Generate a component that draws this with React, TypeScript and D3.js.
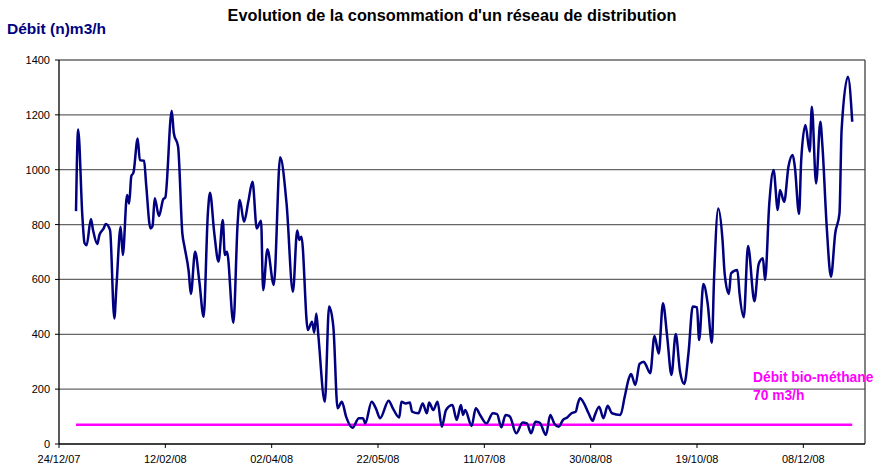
import React from "react";
import * as d3 from "d3";

// ---- Data ----
// day of year 2008 (0 = 01/01/08) and measured flow (n)m3/h
const dayIndex = [
  0, 1, 3, 4, 5, 7, 8, 10, 11, 13, 14, 16, 18, 19, 21, 22, 24, 25, 26, 27, 29, 30, 32, 33, 35, 36, 37, 39, 41, 42,
  45, 46, 48, 50, 51, 53, 54, 56, 58, 60, 62, 63, 65, 67, 69, 70, 71, 74, 76, 77, 79, 81, 83, 85, 87, 88, 90, 93, 96, 99,
  102, 104, 105, 106, 109, 111, 112, 113, 114, 117, 119, 121, 123, 125, 127, 130, 133, 135, 136, 139, 141, 143, 147, 149, 152, 153, 155, 157, 158, 161,
  163, 165, 166, 168, 170, 172, 174, 177, 179, 181, 182, 183, 186, 188, 190, 193, 196, 198, 200, 202, 204, 207, 210, 212, 214, 216, 218, 221, 223, 225,
  227, 229, 231, 233, 235, 236, 237, 239, 241, 243, 244, 246, 248, 250, 252, 256, 258, 260, 261, 263, 265, 267, 268, 270, 272, 274, 276, 278, 280, 282,
  284, 286, 288, 290, 292, 293, 295, 297, 299, 300, 302, 304, 305, 307, 308, 311, 312, 314, 316, 319, 321, 323, 324, 326, 328, 330, 331, 333, 335, 337,
  338, 340, 341, 343, 345, 346, 348, 350, 351, 353, 355, 357, 359, 360, 363, 365,
];
const flowValues = [
  849, 1147, 829, 733, 725, 820, 780, 729, 762, 786, 802, 780, 458, 573, 792, 689, 908, 877, 977, 989, 1114, 1035, 1033, 944, 786, 795, 896, 831, 892, 899,
  1215, 1133, 1084, 768, 720, 628, 547, 701, 592, 464, 841, 916, 770, 665, 817, 689, 701, 442, 805, 890, 810, 883, 956, 786, 814, 561, 710, 580, 1045, 877,
  555, 778, 744, 756, 416, 446, 406, 476, 391, 154, 501, 428, 130, 154, 100, 59, 94, 94, 75, 154, 130, 94, 158, 130, 97, 154, 148, 151, 118, 112,
  148, 112, 151, 124, 154, 63, 124, 142, 88, 142, 106, 124, 66, 130, 106, 75, 112, 109, 61, 106, 100, 39, 78, 75, 39, 81, 78, 33, 106, 73,
  63, 88, 97, 112, 118, 148, 167, 146, 112, 85, 106, 136, 94, 139, 112, 106, 172, 240, 255, 215, 292, 300, 288, 258, 394, 330, 513, 390, 252, 401,
  265, 219, 331, 501, 498, 379, 583, 513, 369, 598, 859, 744, 622, 547, 622, 634, 549, 462, 722, 520, 656, 677, 598, 877, 999, 853, 926, 883, 1011, 1054,
  1011, 839, 1035, 1163, 1066, 1230, 950, 1175, 1084, 792, 610, 768, 841, 1145, 1339, 1175,
];
const bioDays = [0, 365];
const bioValue = 70;
const yTicks = [0, 200, 400, 600, 800, 1000, 1200, 1400];
const xTickStepDays = 50;
const xTickCount = 8;

const title = "Evolution de la consommation d'un réseau de distribution";
const yTitle = "Débit (n)m3/h";
const bioLabel1 = "Débit bio-méthane";
const bioLabel2 = "70 m3/h";

export default function App() {
  const W = 875;
  const H = 467;
  const left = 59;
  const right = 865;
  const top = 60;
  const bottom = 444;

  const axisStart = new Date(2007, 11, 24);
  const yearStart = new Date(2008, 0, 1);
  const axisEnd = d3.timeDay.offset(axisStart, 379);

  const x = d3.scaleTime().domain([axisStart, axisEnd]).range([left, right]);
  const y = d3.scaleLinear().domain([0, 1400]).range([bottom, top]);

  const data = dayIndex.map((d, i) => ({ date: d3.timeDay.offset(yearStart, d), v: flowValues[i] }));
  const line = d3
    .line<{ date: Date; v: number }>()
    .x((d) => x(d.date))
    .y((d) => y(d.v))
    .curve(d3.curveMonotoneX);

  const xTicks = d3.range(xTickCount).map((i) => d3.timeDay.offset(axisStart, i * xTickStepDays));
  const fmt = d3.timeFormat("%d/%m/%y");

  const bioY = y(bioValue);
  const font = "Liberation Sans, Arial, sans-serif";

  return (
    <svg
      width={W}
      height={H}
      style={{ position: "absolute", left: 0, top: 0, display: "block", background: "#fff" }}
      fontFamily={font}
    >
      <rect x={0} y={0} width={W} height={H} fill="#fff" />
      <text x={452} y={21} textAnchor="middle" fontSize={16.3} fontWeight="bold" fill="#000">
        {title}
      </text>
      <text x={7} y={34} fontSize={15.5} fontWeight="bold" fill="#000080">
        {yTitle}
      </text>

      {/* gridlines */}
      {yTicks.slice(1).map((t) => (
        <line key={t} x1={left} x2={right} y1={y(t)} y2={y(t)} stroke="#666" strokeWidth={1.3} />
      ))}
      <line x1={right} x2={right} y1={top} y2={bottom} stroke="#404040" strokeWidth={1.3} />

      {/* y axis */}
      <line x1={left} x2={left} y1={top} y2={bottom} stroke="#000" strokeWidth={1.3} />
      {yTicks.map((t) => (
        <g key={t}>
          <line x1={left - 4} x2={left} y1={y(t)} y2={y(t)} stroke="#000" />
          <text x={50} y={y(t) + 4} textAnchor="end" fontSize={11} fill="#000">
            {t}
          </text>
        </g>
      ))}

      {/* x axis */}
      <line x1={left} x2={right} y1={bottom} y2={bottom} stroke="#000" strokeWidth={1.3} />
      {xTicks.map((t, i) => (
        <g key={i}>
          <line x1={x(t)} x2={x(t)} y1={bottom} y2={bottom + 4} stroke="#000" />
          <text x={x(t)} y={463} textAnchor="middle" fontSize={11} fill="#000">
            {fmt(t)}
          </text>
        </g>
      ))}

      {/* bio-methane line */}
      <line
        x1={x(d3.timeDay.offset(yearStart, bioDays[0]))}
        x2={x(d3.timeDay.offset(yearStart, bioDays[1]))}
        y1={bioY}
        y2={bioY}
        stroke="#FF00FF"
        strokeWidth={2.5}
      />

      {/* consumption */}
      <path d={line(data) || ""} fill="none" stroke="#000080" strokeWidth={2.5} strokeLinejoin="round" />

      <text x={753} y={382} fontSize={13.8} fontWeight="bold" fill="#FF00FF">
        {bioLabel1}
      </text>
      <text x={753} y={400} fontSize={13.8} fontWeight="bold" fill="#FF00FF">
        {bioLabel2}
      </text>
    </svg>
  );
}
